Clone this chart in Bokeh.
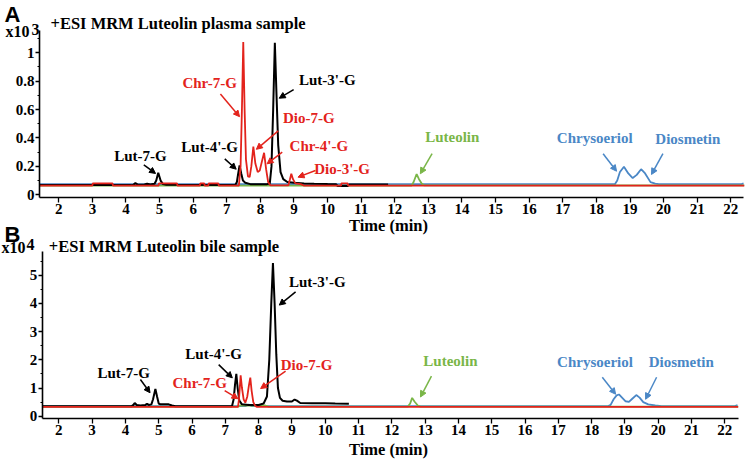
from bokeh.plotting import figure
from bokeh.models import Range1d, FixedTicker, Label, Arrow, NormalHead, LinearAxis
from bokeh.embed import file_html
from bokeh.resources import INLINE

# ---------------- data ----------------
x_ticks = list(range(2, 23))
a_y_ticks = [0, 0.2, 0.4, 0.6, 0.8, 1]
a_y_labels = ["0", "0.2", "0.4", "0.6", "0.8", "1"]
a_y_minor = [0.1, 0.3, 0.5, 0.7, 0.9, 1.1]
b_y_ticks = [0, 1, 2, 3, 4, 5]
b_y_labels = ["0", "1", "2", "3", "4", "5"]
b_y_minor = [0.5, 1.5, 2.5, 3.5, 4.5, 5.5]

# Panel A (plasma), intensity x10^3
a_black_t = [1.43, 4.15, 4.22, 4.28, 4.36, 4.55, 4.63, 4.72, 4.85, 4.9, 4.96, 5.03, 5.1, 5.2,
             7.25, 7.3, 7.34, 7.38, 7.43, 7.48, 7.55, 7.7, 8.2, 8.28, 8.33, 8.38, 8.43, 8.48,
             8.53, 8.6, 8.68, 8.8, 9.0, 9.3, 9.6, 10.0, 10.25, 10.3, 10.6, 10.65, 11.8]
a_black_v = [0.068, 0.068, 0.07, 0.082, 0.07, 0.072, 0.078, 0.073, 0.078, 0.1, 0.155, 0.1, 0.075, 0.07,
             0.068, 0.09, 0.15, 0.206, 0.15, 0.1, 0.085, 0.075, 0.075, 0.08, 0.2, 0.6, 1.07, 0.7,
             0.35, 0.16, 0.11, 0.09, 0.085, 0.08, 0.078, 0.076, 0.075, 0.062, 0.062, 0.072, 0.072]

a_red_t = [1.43, 3.0, 3.01, 3.6, 3.61, 4.97, 4.98, 5.52, 5.53, 6.2, 6.21, 6.33, 6.34, 6.45, 6.46,
           6.75, 6.76, 7.36, 7.41, 7.45, 7.49, 7.53, 7.57, 7.63, 7.68, 7.73, 7.79, 7.85, 7.92,
           7.98, 8.05, 8.11, 8.17, 8.23, 8.3, 8.83, 8.88, 8.92, 8.97, 9.04, 9.2, 9.3, 10.4,
           10.41, 10.6, 10.61, 22.4]
a_red_v = [0.065, 0.065, 0.08, 0.08, 0.065, 0.065, 0.08, 0.08, 0.065, 0.065, 0.08, 0.08, 0.065, 0.065, 0.08,
           0.08, 0.065, 0.065, 0.2, 0.6, 1.075, 0.6, 0.25, 0.13, 0.125, 0.2, 0.34, 0.22, 0.16,
           0.17, 0.24, 0.296, 0.18, 0.09, 0.066, 0.066, 0.11, 0.148, 0.11, 0.08, 0.075, 0.065, 0.065,
           0.08, 0.08, 0.065, 0.065]

a_green_t = [1.43, 12.5, 12.56, 12.65, 12.72, 12.8, 12.88, 22.4]
a_green_v = [0.064, 0.064, 0.09, 0.146, 0.11, 0.08, 0.066, 0.066]

a_blue_t = [1.43, 18.55, 18.62, 18.7, 18.82, 18.95, 19.08, 19.2, 19.33, 19.45, 19.61, 19.75,
            19.86, 20.1, 22.3, 22.38]
a_blue_v = [0.074, 0.074, 0.1, 0.16, 0.197, 0.15, 0.118, 0.14, 0.18, 0.15, 0.089, 0.078,
            0.075, 0.074, 0.074, 0.08]

# Panel B (bile), intensity x10^4
b_black_t = [1.5, 4.18, 4.24, 4.28, 4.34, 4.45, 4.6, 4.65, 4.7, 4.78, 4.83, 4.9, 4.95, 5.0,
             5.05, 5.3, 5.4, 5.5, 7.2, 7.25, 7.29, 7.33, 7.37, 7.42, 7.5, 7.7, 8.0, 8.15, 8.25,
             8.32, 8.38, 8.43, 8.48, 8.53, 8.58, 8.64, 8.72, 8.85, 9.0, 9.08, 9.15, 9.25, 9.6,
             10.0, 10.3, 10.71]
b_black_v = [0.35, 0.35, 0.4, 0.47, 0.4, 0.38, 0.4, 0.44, 0.4, 0.42, 0.6, 0.97, 0.7, 0.45,
             0.42, 0.42, 0.38, 0.35, 0.35, 0.6, 1.1, 1.5, 1.0, 0.55, 0.42, 0.4, 0.4, 0.45, 0.7,
             2.0, 4.0, 5.43, 4.0, 2.2, 1.0, 0.65, 0.55, 0.52, 0.52, 0.59, 0.55, 0.47, 0.46,
             0.46, 0.45, 0.44]

b_red_t = [1.5, 7.38, 7.41, 7.44, 7.46, 7.5, 7.55, 7.6, 7.66, 7.71, 7.75, 7.79, 7.84, 7.9, 7.95, 22.4]
b_red_v = [0.33, 0.33, 0.6, 1.1, 1.45, 1.0, 0.6, 0.48, 0.7, 1.1, 1.37, 0.9, 0.5, 0.36, 0.33, 0.33]

b_green_t = [1.5, 7.4, 7.45, 8.2, 8.3, 12.48, 12.55, 12.61, 12.68, 12.78, 12.86, 22.4]
b_green_v = [0.34, 0.34, 0.38, 0.38, 0.34, 0.34, 0.45, 0.65, 0.52, 0.38, 0.34, 0.34]

b_blue_t = [1.5, 7.6, 7.7, 7.8, 18.5, 18.57, 18.66, 18.75, 18.82, 18.92, 19.02, 19.12, 19.22,
            19.34, 19.44, 19.55, 19.7, 19.91, 20.1, 22.3, 22.38]
b_blue_v = [0.36, 0.36, 0.41, 0.36, 0.36, 0.4, 0.6, 0.74, 0.77, 0.65, 0.53, 0.51, 0.62,
            0.75, 0.66, 0.5, 0.42, 0.38, 0.36, 0.36, 0.39]

# ---------------- styles ----------------
RED = "#e3231c"
GREEN = "#7ab648"
BLUE = "#4a87c6"
BLACK = "#000000"
SERIF = "Liberation Serif"
SANS = "Liberation Sans"

# annotations: (text, color, label x, label y, arrow x0, y0, x1, y1)
a_notes = [
    ("Lut-7-G", BLACK, 4.43, 0.276, 4.53, 0.21, 4.88, 0.15),
    ("Lut-4'-G", BLACK, 6.49, 0.335, 6.94, 0.253, 7.28, 0.18),
    ("Chr-7-G", RED, 6.49, 0.79, 6.81, 0.71, 7.38, 0.55),
    ("Lut-3'-G", BLACK, 9.99, 0.805, 8.99, 0.74, 8.56, 0.68),
    ("Dio-7-G", RED, 9.44, 0.54, 8.53, 0.45, 7.88, 0.32),
    ("Chr-4'-G", RED, 9.74, 0.34, 8.65, 0.30, 8.2, 0.218),
    ("Dio-3'-G", RED, 10.43, 0.183, 9.64, 0.171, 9.12, 0.124),
    ("Luteolin", GREEN, 13.71, 0.406, 13.11, 0.29, 12.76, 0.148),
    ("Chrysoeriol", BLUE, 17.95, 0.40, 18.2, 0.289, 18.6, 0.166),
    ("Diosmetin", BLUE, 20.72, 0.39, 19.98, 0.289, 19.64, 0.143),
]
b_notes = [
    ("Lut-7-G", BLACK, 3.95, 1.54, 4.45, 1.30, 4.74, 0.83),
    ("Lut-4'-G", BLACK, 6.65, 2.19, 6.80, 1.83, 7.21, 1.36),
    ("Chr-7-G", RED, 6.23, 1.18, 6.98, 0.91, 7.38, 0.62),
    ("Lut-3'-G", BLACK, 9.76, 4.77, 9.11, 4.41, 8.62, 3.94),
    ("Dio-7-G", RED, 9.44, 1.80, 8.81, 1.6, 8.06, 0.98),
    ("Luteolin", GREEN, 13.76, 1.97, 13.19, 1.42, 12.86, 0.68),
    ("Chrysoeriol", BLUE, 18.1, 1.93, 18.32, 1.38, 18.72, 0.78),
    ("Diosmetin", BLUE, 20.69, 1.93, 19.95, 1.38, 19.62, 0.6),
]

# ---------------- one canvas, two panels ----------------
# default ranges: panel A; extra ranges "bx"/"b": panel B
p = figure(width=747, height=459, output_backend="svg", toolbar_location=None,
           x_range=Range1d(0.265, 22.497), y_range=Range1d(-1.864, 1.368),
           min_border=0, min_border_left=0, min_border_right=0,
           min_border_top=0, min_border_bottom=0)
p.extra_x_ranges = {"bx": Range1d(0.249, 22.68)}
p.extra_y_ranges = {"b": Range1d(-1.535, 14.74)}
p.outline_line_color = None
p.xgrid.visible = False
p.ygrid.visible = False
p.background_fill_color = "white"
p.border_fill_color = "white"


def style_axis(ax):
    ax.axis_line_width = 1.6
    ax.axis_line_color = BLACK
    ax.major_tick_line_color = BLACK
    ax.minor_tick_line_color = BLACK
    ax.major_tick_line_width = 1.3
    ax.major_tick_in = 0
    ax.minor_tick_in = 0
    ax.major_label_text_font = SERIF
    ax.major_label_text_font_style = "bold"
    ax.major_label_text_font_size = "15px"
    ax.major_label_text_color = BLACK


def style_x(ax):
    style_axis(ax)
    ax.ticker = FixedTicker(ticks=x_ticks)
    ax.major_tick_out = 5
    ax.minor_tick_out = 0
    ax.major_label_standoff = 2


def style_y(ax, ticks, labels, minor):
    style_axis(ax)
    ax.ticker = FixedTicker(ticks=ticks, minor_ticks=minor)
    ax.major_tick_out = 4
    ax.minor_tick_out = 2
    ax.major_label_standoff = 1
    ax.major_label_overrides = {t: s for t, s in zip(ticks, labels)}


# panel A axes (default ones)
xa = p.xaxis[0]
ya = p.yaxis[0]
style_x(xa)
xa.fixed_location = -0.019
xa.bounds = (1.426, 22.38)
style_y(ya, a_y_ticks, a_y_labels, a_y_minor)
ya.fixed_location = 1.426
ya.bounds = (-0.019, 1.157)

# panel B axes
xb = LinearAxis(x_range_name="bx")
style_x(xb)
xb.fixed_location = -1.575          # same height as y=-0.082 on the B scale
xb.bounds = (1.5, 22.41)
p.add_layout(xb, "below")
yb = LinearAxis(y_range_name="b", x_range_name="bx")
style_y(yb, b_y_ticks, b_y_labels, b_y_minor)
yb.fixed_location = 1.5
yb.bounds = (-0.082, 5.84)
p.add_layout(yb, "left")


def add_text(x, y, text, color=BLACK, size="15px", font=SERIF, align="center",
             baseline="middle", panel="a"):
    kw = {} if panel == "a" else {"x_range_name": "bx", "y_range_name": "b"}
    p.add_layout(Label(x=x, y=y, text=text, text_color=color, text_font=font,
                       text_font_style="bold", text_font_size=size, text_align=align,
                       text_baseline=baseline, **kw))


def add_notes(notes, panel):
    kw = {} if panel == "a" else {"x_range_name": "bx", "y_range_name": "b"}
    for text, color, lx, ly, x0, y0, x1, y1 in notes:
        add_text(lx, ly, text, color=color, panel=panel)
        p.add_layout(Arrow(x_start=x0, y_start=y0, x_end=x1, y_end=y1,
                           line_color=color, line_width=1.5,
                           end=NormalHead(size=6, fill_color=color, line_color=color), **kw))


def draw_traces(traces, panel):
    kw = {} if panel == "a" else {"x_range_name": "bx", "y_range_name": "b"}
    for t, v, color, w in traces:
        p.line(t, v, line_color=color, line_width=w, **kw)


# ---------------- panel A ----------------
draw_traces([(a_blue_t, a_blue_v, BLUE, 1.8), (a_green_t, a_green_v, GREEN, 1.8),
             (a_black_t, a_black_v, BLACK, 2.0), (a_red_t, a_red_v, RED, 1.8)], "a")
add_notes(a_notes, "a")
add_text(0.384, 1.354, "A", size="22px", font=SANS, align="left", baseline="top")
add_text(1.753, 1.206, "+ESI MRM Luteolin plasma sample", size="16.5px", align="left")
add_text(1.128, 1.15, "x10", size="16px", align="right")
add_text(1.188, 1.164, "3", size="16px", align="left")
add_text(11.81, -0.216, "Time (min)", size="16.5px")
add_text(0.384, -0.195, "B", size="22px", font=SANS, align="left", baseline="top")

# ---------------- panel B ----------------
draw_traces([(b_blue_t, b_blue_v, BLUE, 1.8), (b_green_t, b_green_v, GREEN, 1.8),
             (b_black_t, b_black_v, BLACK, 2.0), (b_red_t, b_red_v, RED, 1.8)], "b")
add_notes(b_notes, "b")
add_text(1.70, 6.028, "+ESI MRM Luteolin bile sample", size="16.5px", align="left", panel="b")
add_text(1.0, 5.993, "x10", size="16px", align="right", panel="b")
add_text(1.03, 6.078, "4", size="16px", align="left", panel="b")
add_text(11.9, -1.18, "Time (min)", size="16.5px", panel="b")

open("out.html", "w").write(file_html(p, INLINE))
